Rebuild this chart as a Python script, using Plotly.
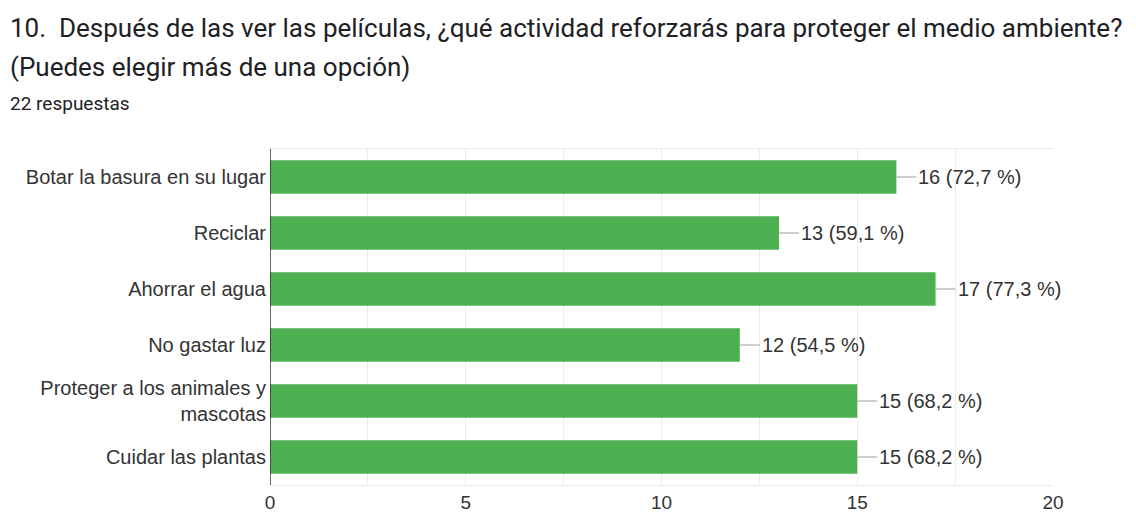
import plotly.graph_objects as go

categories = ["Botar la basura en su lugar", "Reciclar", "Ahorrar el agua", "No gastar luz",
              "Proteger a los animales y<br>mascotas", "Cuidar las plantas"]
counts = [16, 13, 17, 12, 15, 15]
percents = ["72,7", "59,1", "77,3", "54,5", "68,2", "68,2"]
x_ticks = [0, 5, 10, 15, 20]

TFONT = "Roboto"
CFONT = "Liberation Sans, Arial, sans-serif"
TXT = "#333333"

# page has an 8px body margin; plot area in page coords: x 270-1053, y 149-485
L, T, PW, PH = 262, 141, 783, 336
W, H = 1128, 508

fig = go.Figure()
fig.add_trace(go.Bar(
    x=counts, y=categories, orientation="h",
    marker=dict(color="#4caf50", line=dict(width=0)),
    width=0.6, hoverinfo="skip",
))

for c, v, p in zip(categories, counts, percents):
    fig.add_annotation(
        x=v, y=c, xref="x", yref="y",
        text=f"{v} ({p} %)", showarrow=True, arrowhead=0, arrowwidth=1,
        arrowcolor="#9e9e9e", ax=20, ay=0, xanchor="left", standoff=0,
        font=dict(family=CFONT, size=20, color=TXT),
    )

def head(text, page_y, size):
    fig.add_annotation(
        xref="paper", yref="paper", x=(0 - L) / PW, y=1 + (T - (page_y - 8)) / PH,
        xanchor="left", yanchor="middle", text=text, showarrow=False,
        font=dict(family=TFONT, size=size, color="#202124"),
    )

head("10.  Después de las ver las películas, ¿qué actividad reforzarás para proteger el medio ambiente?", 28, 26)
head("(Puedes elegir más de una opción)", 67, 26)
head("22 respuestas", 103, 19)

fig.update_layout(
    width=W, height=H,
    margin=dict(l=L, r=W - L - PW, t=T, b=H - T - PH, autoexpand=False),
    paper_bgcolor="white", plot_bgcolor="white",
    showlegend=False,
    font=dict(family=CFONT, size=20, color=TXT),
    xaxis=dict(
        range=[0, 20], tickvals=x_ticks, ticktext=[str(t) for t in x_ticks],
        showgrid=True, gridcolor="#ebebeb", gridwidth=1,
        minor=dict(dtick=2.5, showgrid=True, gridcolor="#ebebeb", gridwidth=1),
        zeroline=False, showline=True, linecolor="#ebebeb", mirror=True,
        ticks="", ticklabelstandoff=0, automargin=False,
        tickfont=dict(family=CFONT, size=19, color=TXT),
        fixedrange=True,
    ),
    yaxis=dict(
        categoryorder="array", categoryarray=categories, autorange="reversed",
        showgrid=False, zeroline=False, showline=False, automargin=False,
        ticks="", ticklabelstandoff=3,
        tickfont=dict(family=CFONT, size=20, color=TXT),
        fixedrange=True,
    ),
    bargap=0.4,
)

fig.add_shape(type="line", xref="x", yref="paper", x0=0, x1=0, y0=0, y1=1,
              line=dict(color="#333333", width=1.5), layer="above")

fig.write_html("out.html")
